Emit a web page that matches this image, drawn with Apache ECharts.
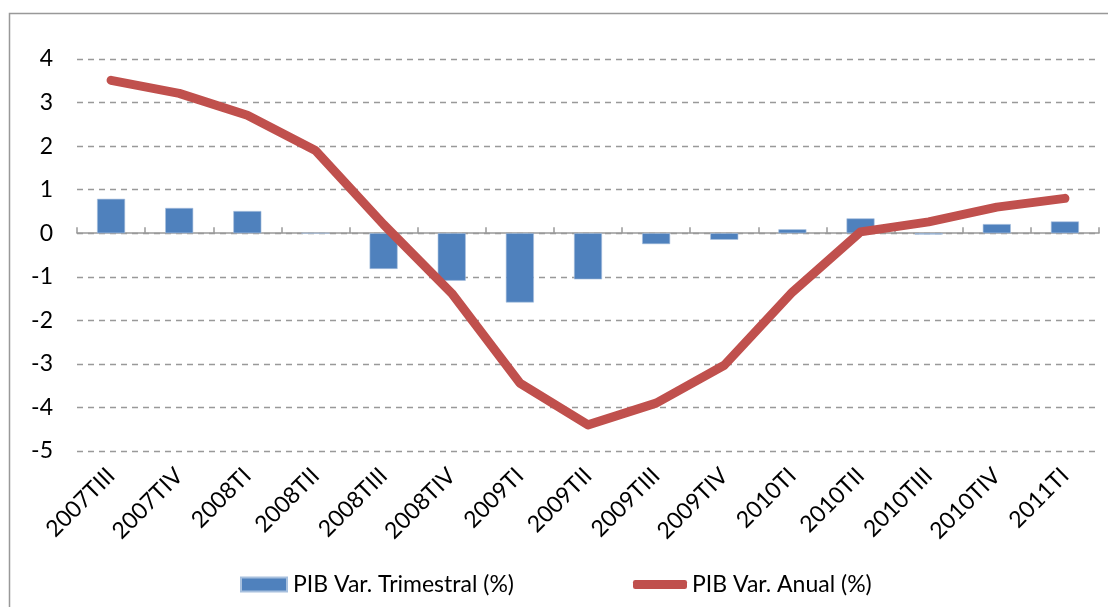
<!DOCTYPE html>
<html>
<head>
<meta charset="utf-8">
<script src="https://cdn.jsdelivr.net/npm/echarts@6/dist/echarts.min.js"></script>
<style>
html,body{margin:0;padding:0;background:#fff;}
#chart{width:1108px;height:607px;}
</style>
</head>
<body>
<div id="chart"></div>
<script>
const categories = ['2007TIII','2007TIV','2008TI','2008TII','2008TIII','2008TIV','2009TI','2009TII','2009TIII','2009TIV','2010TI','2010TII','2010TIII','2010TIV','2011TI'];
const trimestral = [0.79, 0.58, 0.51, 0.0, -0.82, -1.09, -1.59, -1.06, -0.25, -0.15, 0.09, 0.34, -0.03, 0.21, 0.27];
const anual = [3.51, 3.21, 2.71, 1.90, 0.20, -1.38, -3.44, -4.40, -3.90, -3.03, -1.35, 0.03, 0.26, 0.60, 0.80];
const seriesNames = ['PIB Var. Trimestral (%)', 'PIB Var. Anual (%)'];

const FONT = 'Lato, "Liberation Sans", sans-serif';
const chart = echarts.init(document.getElementById('chart'), null, {renderer: 'canvas'});
chart.setOption({
  animation: false,
  backgroundColor: '#fff',
  graphic: [{
    type: 'rect',
    shape: {x: 9.5, y: 13.5, width: 1200, height: 700},
    style: {fill: 'none', stroke: '#999', lineWidth: 1.5},
    silent: true,
    z: -10
  }],
  grid: {left: 77, right: 9, top: 59, bottom: 156},
  legend: [{
    data: [seriesNames[0]],
    left: 240, top: 573, padding: 0,
    itemWidth: 46, itemHeight: 14, itemGap: 5,
    icon: 'rect',
    textStyle: {fontFamily: FONT, fontSize: 23, color: '#000', padding: [0,0,0,1]}
  }, {
    data: [seriesNames[1]],
    left: 633, top: 573, padding: 0,
    itemWidth: 54, itemHeight: 9,
    icon: 'roundRect',
    textStyle: {fontFamily: FONT, fontSize: 23, color: '#000'}
  }],
  xAxis: [{
    type: 'category',
    data: categories,
    position: 'bottom',
    axisLine: {show: false, onZero: false},
    axisTick: {show: false},
    axisLabel: {rotate: 45, fontFamily: FONT, fontSize: 23, color: '#000', margin: 21, interval: 0}
  }, {
    type: 'category',
    data: categories,
    axisLine: {show: true, onZero: true, lineStyle: {color: '#999', width: 1.5}},
    axisTick: {show: true, length: 6, inside: false, lineStyle: {color: '#999', width: 1.5}},
    axisLabel: {show: false}
  }],
  yAxis: {
    type: 'value',
    min: -5, max: 4, interval: 1,
    axisLine: {show: false},
    axisTick: {show: false},
    axisLabel: {fontFamily: FONT, fontSize: 23, color: '#000', margin: 24},
    splitLine: {show: true, lineStyle: {color: '#999', type: [6, 5], width: 1.3}}
  },
  series: [{
    name: seriesNames[0],
    type: 'bar',
    xAxisIndex: 0,
    data: trimestral,
    barWidth: 28,
    itemStyle: {color: '#4F81BD', borderColor: '#A7C0DE', borderWidth: 0.6},
    z: 2
  }, {
    name: seriesNames[1],
    type: 'line',
    xAxisIndex: 0,
    data: anual,
    symbol: 'none',
    lineStyle: {color: '#C0504D', width: 9, cap: 'round', join: 'round'},
    itemStyle: {color: '#C0504D'},
    z: 3
  }]
});
</script>
</body>
</html>
